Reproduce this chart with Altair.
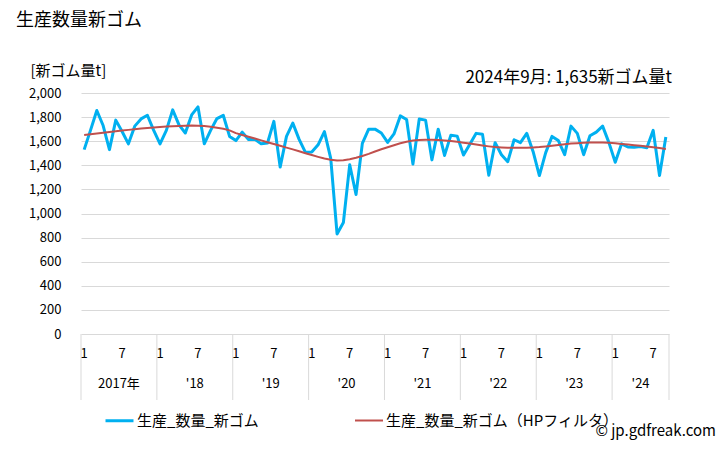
import altair as alt
import pandas as pd

# ---- data (Jan 2017 .. Sep 2024, monthly) ----
years = [2017, 2018, 2019, 2020, 2021, 2022, 2023, 2024]
year_labels = ["2017年", "'18", "'19", "'20", "'21", "'22", "'23", "'24"]
month_tick_labels = ["1", "7"]

production = [
    # 2017
    1530, 1690, 1855, 1730, 1530, 1775, 1680, 1578, 1725, 1785, 1815, 1690,
    # 2018
    1578, 1690, 1860, 1735, 1668, 1818, 1885, 1578, 1690, 1788, 1815, 1640,
    # 2019
    1605, 1675, 1615, 1615, 1578, 1585, 1765, 1385, 1640, 1750, 1615, 1508,
    # 2020
    1510, 1570, 1680, 1458, 830, 925, 1405, 1158, 1582, 1700, 1700, 1668,
    # 2021
    1590, 1660, 1810, 1780, 1410, 1785, 1775, 1445, 1700, 1482, 1650, 1642,
    # 2022
    1485, 1575, 1665, 1658, 1318, 1588, 1488, 1430, 1612, 1588, 1665, 1515,
    # 2023
    1315, 1505, 1640, 1605, 1488, 1725, 1665, 1488, 1645, 1675, 1725, 1588,
    # 2024
    1425, 1578, 1552, 1550, 1556, 1545, 1690, 1315, 1635,
]

hp_trend = [
    # 2017
    1652, 1658, 1664, 1670, 1676, 1682, 1688, 1694, 1700, 1705, 1710, 1714,
    # 2018
    1718, 1722, 1725, 1727, 1729, 1730, 1729, 1726, 1720, 1712, 1703, 1690,
    # 2019
    1667, 1652, 1637, 1622, 1607, 1592, 1577, 1562, 1547, 1532, 1516, 1500,
    # 2020
    1485, 1470, 1456, 1446, 1440, 1442, 1450, 1462, 1477, 1495, 1515, 1533,
    # 2021
    1550, 1567, 1583, 1596, 1605, 1610, 1612, 1612, 1610, 1606, 1601, 1595,
    # 2022
    1588, 1580, 1572, 1564, 1557, 1551, 1548, 1546, 1545, 1545, 1546, 1548,
    # 2023
    1551, 1556, 1562, 1569, 1575, 1580, 1584, 1587, 1589, 1590, 1589, 1587,
    # 2024
    1582, 1577, 1572, 1567, 1562, 1556, 1550, 1543, 1536,
]

series_names = ["生産_数量_新ゴム", "生産_数量_新ゴム（HPフィルタ）"]
series_colors = ["#00B0F0", "#C0504D"]

title_text = "生産数量新ゴム"
y_title_text = "[新ゴム量t]"
annotation_text = "2024年9月: 1,635新ゴム量t"
copyright_text = "© jp.gdfreak.com"
FONT = "Noto Sans CJK JP"

# ---- tables ----
n = len(production)
idx = list(range(n))
df = pd.DataFrame(
    {
        "idx": idx * 2,
        "value": production + hp_trend,
        "series": [series_names[0]] * n + [series_names[1]] * n,
    }
)

month_rows = []
for yi, y in enumerate(years):
    for m, lab in zip([0, 6], month_tick_labels):
        i = yi * 12 + m
        if i < n:
            month_rows.append({"idx": i, "label": lab})
months_df = pd.DataFrame(month_rows)

year_rows = []
for yi, (y, lab) in enumerate(zip(years, year_labels)):
    start = yi * 12 - 0.5
    end = min(yi * 12 + 12, n) - 0.5
    year_rows.append({"center": (start + end) / 2, "label": lab})
years_df = pd.DataFrame(year_rows)

bounds_df = pd.DataFrame(
    {"b": [yi * 12 - 0.5 for yi in range(len(years))] + [n - 0.5]}
)

W, H = 588, 241
xscale = alt.Scale(domain=[-0.5, n - 0.5], nice=False, zero=False)

base = alt.Chart(df)

lines = base.mark_line(strokeJoin="round").encode(
    x=alt.X("idx:Q", scale=xscale, axis=None),
    y=alt.Y(
        "value:Q",
        scale=alt.Scale(domain=[0, 2000], nice=False),
        axis=alt.Axis(
            values=list(range(0, 2001, 200)),
            format=",d",
            domain=False,
            ticks=False,
            labelPadding=20,
            labelFontSize=13,
            labelColor="#000000",
            gridColor="#d9d9d9",
            title=y_title_text,
            titleAngle=0,
            titleAlign="left",
            titleBaseline="middle",
            titleX=-51,
            titleY=-23,
            titleFontSize=15,
            titleFontWeight="normal",
            titleColor="#000000",
        ),
    ),
    color=alt.Color(
        "series:N",
        scale=alt.Scale(domain=series_names, range=series_colors),
        legend=alt.Legend(
            title=None,
            orient="none",
            legendX=23,
            legendY=312,
            direction="horizontal",
            symbolType="stroke",
            symbolSize=784,
            symbolStrokeWidth=3,
            labelFontSize=15,
            labelColor="#000000",
            labelOffset=2,
            labelLimit=400,
            columnPadding=92,
            padding=0,
        ),
    ),
    strokeWidth=alt.StrokeWidth(
        "series:N",
        scale=alt.Scale(domain=series_names, range=[3, 2]),
        legend=None,
    ),
)

month_text = alt.Chart(months_df).mark_text(
    fontSize=13, color="#000000", baseline="middle", align="center"
).encode(x=alt.X("idx:Q", scale=xscale), y=alt.value(261), text="label:N")

year_text = alt.Chart(years_df).mark_text(
    fontSize=13, color="#000000", baseline="middle", align="center"
).encode(x=alt.X("center:Q", scale=xscale), y=alt.value(291), text="label:N")

sep = alt.Chart(bounds_df).mark_rule(color="#d9d9d9", strokeWidth=1).encode(
    x=alt.X("b:Q", scale=xscale), y=alt.value(H), y2=alt.value(307)
)

annot_mark = alt.Chart(pd.DataFrame({"t": [annotation_text]})).mark_text(
    fontSize=17, align="right", baseline="middle", color="#000000"
).encode(x=alt.value(591), y=alt.value(-15), text="t:N")

copy_mark = alt.Chart(pd.DataFrame({"t": [copyright_text]})).mark_text(
    fontSize=15, align="right", baseline="middle", color="#000000"
).encode(x=alt.value(635), y=alt.value(338), text="t:N")

chart = (
    alt.layer(lines, sep, month_text, year_text, annot_mark, copy_mark)
    .resolve_scale(x="shared")
    .properties(
        width=W,
        height=H,
        title=alt.TitleParams(
            title_text,
            anchor="start",
            frame="group",
            fontSize=18,
            fontWeight="normal",
            color="#000000",
            dx=-65,
            baseline="middle",
            offset=0,
            dy=-24,
        ),
        autosize=alt.AutoSizeParams(type="none"),
        padding={"left": 73, "top": 85, "right": 51, "bottom": 108},
    )
    .configure(font=FONT)
    .configure_view(stroke=None)
)

chart.save("out.html", embed_options={"renderer": "svg", "actions": False})
